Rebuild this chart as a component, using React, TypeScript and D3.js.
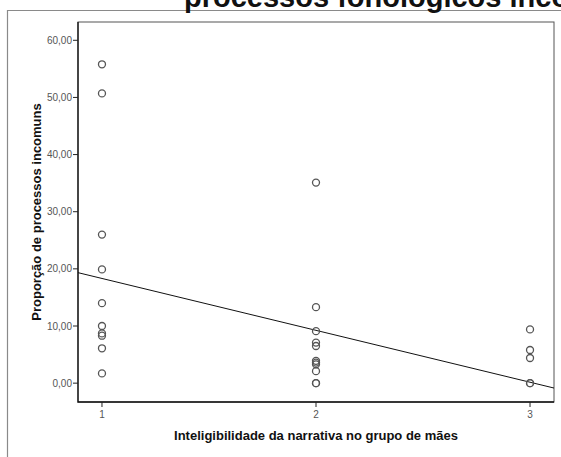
import { useEffect, useRef } from 'react'
import * as d3 from 'd3'

// Values (x = group, y = proportion)
const group1 = [55.8, 50.7, 26.0, 19.9, 14.0, 10.0, 8.7, 8.3, 6.1, 1.7]
const group2 = [35.1, 13.3, 9.1, 7.1, 6.5, 3.9, 3.6, 3.3, 2.1, 0, 0]
const group3 = [9.4, 5.8, 4.4, 0, 0]
const groups = [1, 2, 3]
const yTicks = [0, 10, 20, 30, 40, 50, 60]
// fit line: y = intercept + slope * x
const fitIntercept = 27.4
const fitSlope = -9.08

const title = 'processos fonológicos incomuns'
const xTitle = 'Inteligibilidade da narrativa no grupo de mães'
const yTitle = 'Proporção de processos incomuns'

export default function App() {
  const svgRef = useRef<SVGSVGElement>(null)
  const width = 561
  const height = 457

  useEffect(() => {
    if (!svgRef.current) return
    const svg = d3.select(svgRef.current)
    svg.selectAll('*').remove()

    const left = 78, right = 554, top = 22, bottom = 402
    const x = d3.scaleLinear().domain([0.888, 3.112]).range([left, right])
    const y = d3.scaleLinear().domain([-3.3, 63.2]).range([bottom, top])
    const font = 'Arial, "Liberation Sans", sans-serif'

    // outer frame
    svg.append('path')
      .attr('d', `M7.5,${height} V10.5 H${width}`)
      .attr('fill', 'none')
      .attr('stroke', '#8a8a8a')
      .attr('stroke-width', 1.2)

    // title (cut off at top and right)
    svg.append('text')
      .attr('x', 184)
      .attr('y', 7)
      .style('font-family', font)
      .style('font-size', '29px')
      .style('font-weight', 'bold')
      .style('fill', '#111')
      .text(title)

    // plot box
    svg.append('rect')
      .attr('x', left)
      .attr('y', top)
      .attr('width', right - left)
      .attr('height', bottom - top)
      .attr('fill', 'none')
      .attr('stroke', '#555')
      .attr('stroke-width', 1)
    svg.append('path')
      .attr('d', `M${left},${top} V${bottom} H${right}`)
      .attr('fill', 'none')
      .attr('stroke', '#111')
      .attr('stroke-width', 1.3)

    // y ticks
    yTicks.forEach(t => {
      svg.append('line')
        .attr('x1', left - 5).attr('x2', left)
        .attr('y1', y(t)).attr('y2', y(t))
        .attr('stroke', '#222')
      svg.append('text')
        .attr('x', left - 6)
        .attr('y', y(t))
        .attr('dy', '0.35em')
        .attr('text-anchor', 'end')
        .style('font-family', font)
        .style('font-size', '10px')
        .style('fill', '#555')
        .text(t.toFixed(2).replace('.', ','))
    })

    // x ticks
    groups.forEach(g => {
      svg.append('line')
        .attr('x1', x(g)).attr('x2', x(g))
        .attr('y1', bottom).attr('y2', bottom + 5)
        .attr('stroke', '#222')
      svg.append('text')
        .attr('x', x(g))
        .attr('y', bottom + 16)
        .attr('text-anchor', 'middle')
        .style('font-family', font)
        .style('font-size', '10px')
        .style('fill', '#555')
        .text(String(g))
    })

    // axis titles
    svg.append('text')
      .attr('x', (left + right) / 2)
      .attr('y', 440)
      .attr('text-anchor', 'middle')
      .style('font-family', font)
      .style('font-size', '13px')
      .style('font-weight', 'bold')
      .style('fill', '#111')
      .text(xTitle)

    svg.append('text')
      .attr('transform', `translate(41, ${(top + bottom) / 2}) rotate(-90)`)
      .attr('text-anchor', 'middle')
      .style('font-family', font)
      .style('font-size', '13px')
      .style('font-weight', 'bold')
      .style('fill', '#111')
      .text(yTitle)

    // fit line
    const [d0, d1] = x.domain()
    svg.append('line')
      .attr('x1', x(d0)).attr('y1', y(fitIntercept + fitSlope * d0))
      .attr('x2', x(d1)).attr('y2', y(fitIntercept + fitSlope * d1))
      .attr('stroke', '#111')
      .attr('stroke-width', 1)

    // points
    const points = [
      ...group1.map(v => ({ g: 1, v })),
      ...group2.map(v => ({ g: 2, v })),
      ...group3.map(v => ({ g: 3, v }))
    ]
    svg.append('g')
      .selectAll('circle')
      .data(points)
      .enter()
      .append('circle')
      .attr('cx', d => x(d.g))
      .attr('cy', d => y(d.v))
      .attr('r', 3.5)
      .attr('fill', 'none')
      .attr('stroke', '#555')
      .attr('stroke-width', 1.3)
  }, [])

  return (
    <svg
      ref={svgRef}
      width={width}
      height={height}
      style={{ position: 'absolute', left: 0, top: 0, background: '#fff' }}
    />
  )
}
